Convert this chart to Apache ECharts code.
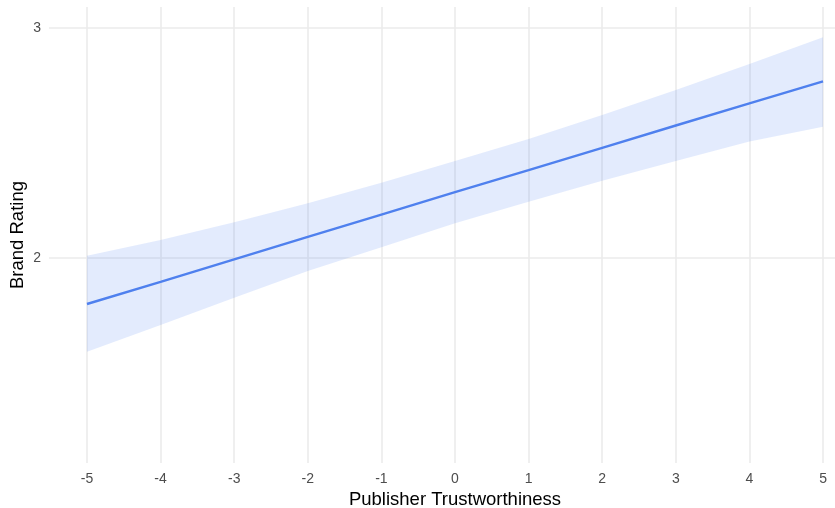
<!DOCTYPE html>
<html>
<head>
<meta charset="utf-8">
<script src="https://cdn.jsdelivr.net/npm/echarts@6/dist/echarts.min.js"></script>
<style>
  html, body { margin: 0; padding: 0; background: #ffffff; }
  #chart { width: 835px; height: 508px; }
</style>
</head>
<body>
<div id="chart"></div>
<script>
// Fitted regression of brand rating on publisher trustworthiness, with its confidence band
const trust = [-5, -4, -3, -2, -1, 0, 1, 2, 3, 4, 5];
const fitted = [1.800, 1.896, 1.994, 2.092, 2.189, 2.286, 2.382, 2.479, 2.576, 2.672, 2.768];
const lowerCI = [1.593, 1.709, 1.827, 1.943, 2.047, 2.151, 2.245, 2.336, 2.422, 2.506, 2.571];
const upperCI = [2.010, 2.078, 2.155, 2.238, 2.327, 2.422, 2.517, 2.622, 2.730, 2.843, 2.960];

const xTicks = [-5, -4, -3, -2, -1, 0, 1, 2, 3, 4, 5];
const yTicks = [2, 3];

const lineData = trust.map((x, i) => [x, fitted[i]]);
const bandData = trust.map((x, i) => [x, lowerCI[i], upperCI[i]]);

const gridColor = '#ebebeb';
const tickColor = '#4d4d4d';
const fontFamily = '"Liberation Sans", Arial, Helvetica, sans-serif';

const chart = echarts.init(document.getElementById('chart'), null, { renderer: 'canvas' });

chart.setOption({
  backgroundColor: '#ffffff',
  animation: false,
  grid: {
    left: 49, top: 7, width: 812, height: 456,
    containLabel: false,
    outerBoundsMode: 'none'
  },
  xAxis: {
    type: 'value',
    min: -5.516,
    max: 5.516,
    name: 'Publisher Trustworthiness',
    nameLocation: 'middle',
    nameGap: 23,
    nameTextStyle: { color: '#000000', fontSize: 18.5, fontFamily: fontFamily },
    axisLine: { show: false },
    axisTick: { show: false, customValues: xTicks },
    axisLabel: {
      customValues: xTicks,
      color: tickColor,
      fontSize: 14,
      fontFamily: fontFamily,
      margin: 9,
      formatter: v => String(v)
    },
    splitLine: { show: true, lineStyle: { color: gridColor, width: 1.6 } }
  },
  yAxis: {
    type: 'value',
    min: 1.109,
    max: 3.091,
    name: 'Brand Rating',
    nameLocation: 'middle',
    nameGap: 22,
    nameRotate: 90,
    nameMoveOverlap: false,
    nameTextStyle: { color: '#000000', fontSize: 18.5, fontFamily: fontFamily },
    axisLine: { show: false },
    axisTick: { show: false, customValues: yTicks },
    axisLabel: {
      customValues: yTicks,
      color: tickColor,
      fontSize: 14,
      fontFamily: fontFamily,
      margin: 8,
      formatter: v => String(v)
    },
    splitLine: { show: true, lineStyle: { color: gridColor, width: 1.6 } }
  },
  series: [
    {
      // confidence band drawn as a single polygon through the library's coordinate system
      type: 'custom',
      data: bandData,
      silent: true,
      z: 2,
      renderItem: function (params, api) {
        if (params.dataIndex !== 0) return null;
        const pts = [];
        for (let i = 0; i < bandData.length; i++) {
          pts.push(api.coord([bandData[i][0], bandData[i][2]]));
        }
        for (let i = bandData.length - 1; i >= 0; i--) {
          pts.push(api.coord([bandData[i][0], bandData[i][1]]));
        }
        return {
          type: 'polygon',
          shape: { points: pts },
          style: { fill: 'rgba(80, 130, 240, 0.16)', stroke: null }
        };
      },
      encode: { x: 0, y: [1, 2] }
    },
    {
      type: 'line',
      data: lineData,
      showSymbol: false,
      symbol: 'none',
      z: 3,
      lineStyle: { color: '#4f80ee', width: 2.4 }
    }
  ]
});
</script>
</body>
</html>
